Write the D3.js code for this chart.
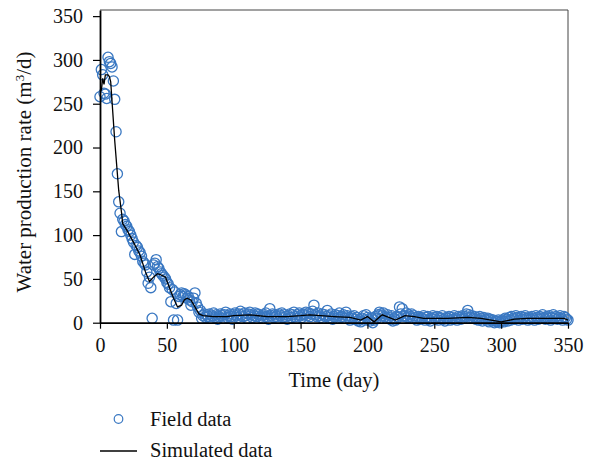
<!DOCTYPE html>
<html>
<head>
<meta charset="utf-8">
<script src="https://cdn.jsdelivr.net/npm/d3@7"></script>
<style>
  body { margin: 0; background: #fff; }
  text { font-family: "Liberation Serif", "Times New Roman", serif; fill: #111; }
</style>
</head>
<body>
<script>
// field measurements, one per day starting at day 0
var fieldRate = [
  258,289,283,262,261,256,303,298,296,292,276,255,218,170,138,125,104,
  118,116,112,110,106,104,100,96,92,78,88,86,82,80,76,70,68,66,58,45,52,40,5,
  66,68,72,64,62,58,56,54,52,50,46,44,40,24,38,3,35,22,3,30,32,34,30,33,32,28,30,26,20,24,28,34,22,18,12,14,5,8,10,6,9,
  7,10,5,8,11,6,9,4,7,10,8,5,9,12,6,8,10,7,4,9,
  11,8,6,10,13,9,7,11,8,5,10,12,9,6,8,11,7,10,9,6,
  8,5,9,11,7,4,16,8,10,6,9,7,5,10,8,11,6,9,7,4,
  8,10,6,9,12,7,5,9,11,8,6,10,9,12,8,11,7,10,13,20,
  9,7,11,8,6,10,5,9,7,14,8,6,10,4,7,9,5,8,11,6,
  7,9,5,12,8,6,3,7,5,8,4,6,2,4,1,5,8,3,9,6,
  4,2,5,0,3,7,5,9,12,10,
  8,11,7,5,9,6,4,8,2,5,3,7,6,18,10,16,8,7,11,6,
  9,7,10,5,8,6,3,7,4,6,5,8,3,6,7,4,2,5,8,6,
  4,7,3,6,5,8,4,2,6,5,7,3,6,4,8,5,3,7,6,4,
  8,5,7,10,14,9,6,8,5,7,
  4,6,3,7,5,2,6,4,3,5,1,4,2,3,0,2,1,3,0,2,
  3,1,5,4,2,6,3,7,5,4,8,6,3,5,7,4,6,8,5,3,
  6,4,7,5,3,8,6,4,7,5,9,6,4,7,5,8,3,6,9,5,
  7,4,6,8,5,3,7,6,4,3
];

// simulated curve
var simDays = [1,2,3,4,6,7,8,11,14,16,17,20,25,30,34,37,40,43,45,49,52,55,58,61,63,65,68,71,74,77,
  85,95,100,112,125,140,150,157,165,175,187,195,200,205,211,216,221,228,235,242,260,275,285,300,310,320,335,347,350];
var simRate = [265,279,272,283,283,281,275,208,151,127,113,106,92,77,58,47,52,56,55,52,40,28,18,20,26,28,26,18,10,8,
  7,7,8,9,7,7,8,9,8,7,6,3,7,1,9,6,3,8,7,5,5,6,5,1,4,5,5,5,3];

var xTicks = [0,50,100,150,200,250,300,350];
var yTicks = [0,50,100,150,200,250,300,350];

var W = 593, H = 463;
var plotL = 100, plotT = 10, plotR = 568, plotB = 322.7;

var svg = d3.select("body").append("svg")
    .attr("width", W)
    .attr("height", H);

var x = d3.scaleLinear().domain([0, 350]).range([plotL, plotR]);
var y = d3.scaleLinear().domain([0, 357]).range([plotB, plotT]);

// thin frame on top and right
svg.append("line")
    .attr("x1", plotL).attr("x2", plotR).attr("y1", plotT).attr("y2", plotT)
    .attr("stroke", "#444").attr("stroke-width", 1);
svg.append("line")
    .attr("x1", plotR).attr("x2", plotR).attr("y1", plotT).attr("y2", plotB)
    .attr("stroke", "#444").attr("stroke-width", 1);

// field data circles
svg.append("g")
  .selectAll("circle")
  .data(fieldRate)
  .enter()
  .append("circle")
    .attr("cx", function(d, i){ return x(i); })
    .attr("cy", function(d){ return y(d); })
    .attr("r", 5.1)
    .attr("fill", "none")
    .attr("stroke", "#3a78c2")
    .attr("stroke-width", 1.3);

// simulated line
var line = d3.line()
    .x(function(d){ return x(d[0]); })
    .y(function(d){ return y(d[1]); });

svg.append("path")
    .datum(d3.zip(simDays, simRate))
    .attr("d", line)
    .attr("fill", "none")
    .attr("stroke", "#000")
    .attr("stroke-width", 1.3);

// axes
var xAxis = svg.append("g")
    .attr("transform", "translate(0," + plotB + ")")
    .call(d3.axisBottom(x).tickValues(xTicks).tickSize(6).tickSizeOuter(0).tickPadding(9));
var yAxis = svg.append("g")
    .attr("transform", "translate(" + plotL + ",0)")
    .call(d3.axisLeft(y).tickValues(yTicks).tickSize(7).tickSizeOuter(0).tickPadding(10));

[xAxis, yAxis].forEach(function(g){
    g.select(".domain").attr("stroke", "#000").attr("stroke-width", 1.8);
    g.selectAll(".tick line").attr("stroke", "#000").attr("stroke-width", 1.2);
    g.selectAll(".tick text")
        .style("font-family", "'Liberation Serif', 'Times New Roman', serif")
        .style("font-size", "20px")
        .attr("fill", "#111");
});

// axis titles
svg.append("text")
    .attr("x", (plotL + plotR) / 2)
    .attr("y", 387)
    .attr("text-anchor", "middle")
    .style("font-size", "20.5px")
    .text("Time (day)");

var yt = svg.append("text")
    .attr("transform", "translate(31,172) rotate(-90)")
    .attr("text-anchor", "middle")
    .style("font-size", "21px");
yt.append("tspan").text("Water production rate (m");
yt.append("tspan").attr("dy", -7).style("font-size", "13px").text("3");
yt.append("tspan").attr("dy", 7).text("/d)");

// legend
svg.append("circle")
    .attr("cx", 118.5).attr("cy", 419)
    .attr("r", 4.3)
    .attr("fill", "none")
    .attr("stroke", "#3a78c2")
    .attr("stroke-width", 1.2);
svg.append("text")
    .attr("x", 150).attr("y", 425.5)
    .style("font-size", "20.5px")
    .text("Field data");

svg.append("line")
    .attr("x1", 100).attr("x2", 137).attr("y1", 451).attr("y2", 451)
    .attr("stroke", "#000").attr("stroke-width", 1.3);
svg.append("text")
    .attr("x", 150).attr("y", 456.5)
    .style("font-size", "20.5px")
    .text("Simulated data");
</script>
</body>
</html>
